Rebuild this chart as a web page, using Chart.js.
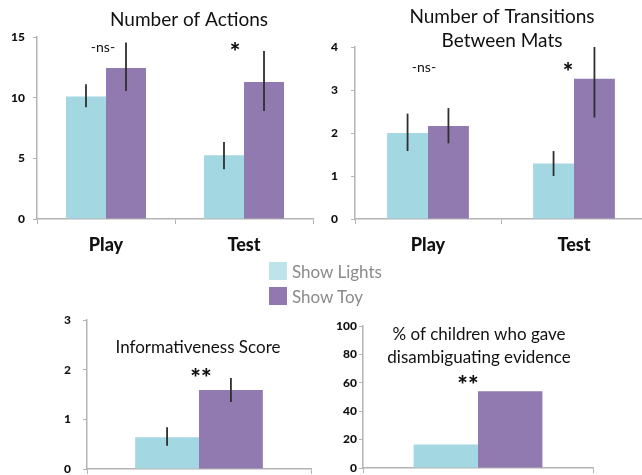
<!DOCTYPE html>
<html>
<head>
<meta charset="utf-8">
<script src="https://cdn.jsdelivr.net/npm/chart.js@4.4.1/dist/chart.umd.min.js"></script>
<style>
html,body{margin:0;padding:0;background:#fff;overflow:hidden;width:642px;height:475px;}
canvas{position:absolute;}
#legend{position:absolute;left:269px;top:262px;font-family:Lato,sans-serif;font-size:17px;color:#8a8a8a;}
#legend .row{display:flex;align-items:center;height:18px;margin-bottom:7px;}
#legend .sw{width:18px;height:18px;margin-right:5px;}
</style>
</head>
<body>
<canvas id="cA" width="321" height="260" style="left:0;top:0"></canvas>
<canvas id="cB" width="340" height="260" style="left:321px;top:0"></canvas>
<canvas id="cC" width="321" height="200" style="left:0;top:300px"></canvas>
<canvas id="cD" width="321" height="200" style="left:321px;top:300px"></canvas>
<div id="legend"></div>
<script>
// ---------- data ----------
const phases = ['Play', 'Test'];
const testOnly = ['Test'];
const seriesNames = ['Show Lights', 'Show Toy'];
const seriesColors = ['#a3d7e2', '#917ab0'];
const legendColors = ['#bfe3ea', '#9179b0'];

// Number of Actions
const actionsLights = [10.1, 5.25];
const actionsLightsLow = [9.2, 4.1];
const actionsLightsHigh = [11.1, 6.35];
const actionsToy = [12.45, 11.3];
const actionsToyLow = [10.55, 8.9];
const actionsToyHigh = [14.55, 13.85];
const actionsTicks = [0, 5, 10, 15];
const actionsSig = ['-ns-', '*'];

// Number of Transitions Between Mats
const transLights = [2.0, 1.29];
const transLightsLow = [1.58, 1.0];
const transLightsHigh = [2.45, 1.58];
const transToy = [2.16, 3.26];
const transToyLow = [1.76, 2.36];
const transToyHigh = [2.58, 4.0];
const transTicks = [0, 1, 2, 3, 4];
const transSig = ['-ns-', '*'];

// Informativeness Score
const infoLights = [0.64];
const infoLightsLow = [0.47];
const infoLightsHigh = [0.84];
const infoToy = [1.59];
const infoToyLow = [1.35];
const infoToyHigh = [1.83];
const infoTicks = [0, 1, 2, 3];
const infoSig = ['**'];

// % of children who gave disambiguating evidence
const pctLights = [16.5];
const pctToy = [54];
const pctTicks = [0, 20, 40, 60, 80, 100];
const pctSig = ['**'];

// ---------- legend ----------
const leg = document.getElementById('legend');
seriesNames.forEach((n, i) => {
  const r = document.createElement('div'); r.className = 'row';
  const s = document.createElement('div'); s.className = 'sw'; s.style.background = legendColors[i];
  const t = document.createElement('span'); t.textContent = n;
  r.appendChild(s); r.appendChild(t); leg.appendChild(r);
});

// ---------- plugin: error bars, significance marks, titles ----------
const FONT = 'Lato, "Open Sans", sans-serif';
const annotPlugin = {
  id: 'annot',
  afterDatasetsDraw(chart, args, opts) {
    const ctx = chart.ctx;
    const ys = chart.scales.y, xs = chart.scales.x;
    chart.data.datasets.forEach((ds, di) => {
      if (!ds.errLow) return;
      const meta = chart.getDatasetMeta(di);
      meta.data.forEach((bar, i) => {
        ctx.save();
        ctx.strokeStyle = '#2e2e2e';
        ctx.lineWidth = 1.8;
        ctx.beginPath();
        ctx.moveTo(bar.x, ys.getPixelForValue(ds.errLow[i]));
        ctx.lineTo(bar.x, ys.getPixelForValue(ds.errHigh[i]));
        ctx.stroke();
        ctx.restore();
      });
    });
    if (opts.sig) {
      opts.sig.labels.forEach((lab, i) => {
        ctx.save();
        const star = lab.indexOf('*') >= 0;
        ctx.font = (star ? '900 25px ' : '14px ') + FONT;
        ctx.fillStyle = '#111';
        ctx.textAlign = 'center';
        ctx.textBaseline = 'middle';
        const x = xs.getPixelForValue(i) + opts.sig.dx[i];
        const y = chart.chartArea.top + opts.sig.dy + (star ? 6 : 0);
        ctx.fillText(lab, x, y);
        ctx.restore();
      });
    }
    if (opts.title) {
      const t = opts.title;
      ctx.save();
      ctx.font = t.size + 'px ' + FONT;
      ctx.fillStyle = '#111';
      ctx.textAlign = 'center';
      ctx.textBaseline = 'alphabetic';
      t.lines.forEach((l, i) => ctx.fillText(l, t.x, t.y + i * t.lh));
      ctx.restore();
    }
  }
};

const AXIS = '#b4b4b4';
function makeChart(id, labels, lights, lightsLow, lightsHigh, toy, toyLow, toyHigh, ticks, o) {
  const datasets = [
    { label: seriesNames[0], data: lights, backgroundColor: seriesColors[0], errLow: lightsLow, errHigh: lightsHigh },
    { label: seriesNames[1], data: toy, backgroundColor: seriesColors[1], errLow: toyLow, errHigh: toyHigh }
  ];
  return new Chart(document.getElementById(id), {
    type: 'bar',
    data: { labels: labels, datasets: datasets },
    options: {
      responsive: false,
      animation: false,
      devicePixelRatio: 1,
      layout: { padding: { top: o.top, right: o.right, left: 0, bottom: 0 } },
      datasets: { bar: { barPercentage: 1, categoryPercentage: o.cp } },
      plugins: {
        legend: { display: false },
        tooltip: { enabled: false },
        annot: { sig: o.sig, title: o.title }
      },
      scales: {
        x: {
          grid: { drawOnChartArea: false, tickLength: 5, color: AXIS },
          border: { color: AXIS, width: 1.5 },
          ticks: { display: o.xlabels, font: { family: FONT, size: 18, weight: '900' }, color: '#111', padding: 10 },
          afterFit(s) { s.height = o.xh; }
        },
        y: {
          min: ticks[0], max: ticks[ticks.length - 1],
          afterBuildTicks(s) { s.ticks = ticks.map(v => ({ value: v })); },
          grid: { drawOnChartArea: false, tickLength: 4, color: AXIS },
          border: { color: AXIS, width: 1.5 },
          ticks: { font: { family: FONT, size: 12, weight: '900' }, color: '#111', padding: o.ypad },
          afterFit(s) { s.width = o.yw; }
        }
      }
    },
    plugins: [annotPlugin]
  });
}

makeChart('cA', phases, actionsLights, actionsLightsLow, actionsLightsHigh, actionsToy, actionsToyLow, actionsToyHigh, actionsTicks, {
  top: 37, right: 8, xh: 41, yw: 37, cp: 0.58, ypad: 8, xlabels: true,
  sig: { labels: actionsSig, dx: [-3, -9], dy: 10 },
  title: { lines: ['Number of Actions'], x: 189, y: 26, size: 19, lh: 24 }
});
makeChart('cB', phases, transLights, transLightsLow, transLightsHigh, transToy, transToyLow, transToyHigh, transTicks, {
  top: 47, right: 14, xh: 41, yw: 34, cp: 0.56, ypad: 13, xlabels: true,
  sig: { labels: transSig, dx: [-4, -6], dy: 20 },
  title: { lines: ['Number of Transitions', 'Between Mats'], x: 181, y: 23, size: 19, lh: 24 }
});
makeChart('cC', testOnly, infoLights, infoLightsLow, infoLightsHigh, infoToy, infoToyLow, infoToyHigh, infoTicks, {
  top: 20, right: 10, xh: 31, yw: 87, cp: 0.57, ypad: 12, xlabels: false,
  sig: { labels: infoSig, dx: [2], dy: 53 },
  title: { lines: ['Informativeness Score'], x: 198, y: 53, size: 17, lh: 23 }
});
makeChart('cD', testOnly, pctLights, null, null, pctToy, null, null, pctTicks, {
  top: 26, right: 49, xh: 32, yw: 42, cp: 0.56, ypad: 2, xlabels: false,
  sig: { labels: pctSig, dx: [-10], dy: 54 },
  title: { lines: ['% of children who gave', 'disambiguating evidence'], x: 158, y: 40, size: 17, lh: 23 }
});
</script>
</body>
</html>
